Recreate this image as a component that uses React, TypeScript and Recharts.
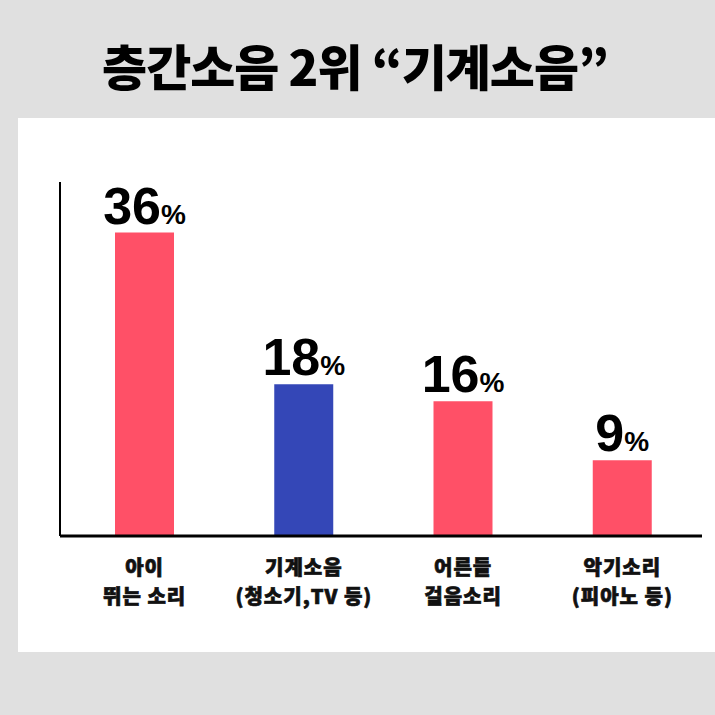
import React from "react";
import { BarChart, Bar, XAxis, YAxis, Cell, LabelList } from "recharts";

const categories = ["아이\n뛰는 소리", "기계소음\n(청소기,TV 등)", "어른들\n걸음소리", "악기소리\n(피아노 등)"];
const shares = [36, 18, 16, 9];
const highlight = [false, true, false, false];

const data = categories.map((name, i) => ({ name, value: shares[i] }));

const PINK = "#FF5067";
const BLUE = "#3447B7";
const KR = "'Noto Sans CJK KR', 'Noto Sans', sans-serif";

function CategoryTick(props: any) {
  const { x, y, payload } = props;
  const lines = String(payload.value).split("\n");
  return (
    <text
      x={x}
      y={y + 31}
      textAnchor="middle"
      fill="#111"
      stroke="#111"
      strokeWidth={0.7}
      fontSize={20}
      fontWeight={900}
      fontFamily={KR}
      letterSpacing={1}
    >
      {lines.map((line, i) => (
        <tspan key={i} x={x} dy={i === 0 ? 0 : 29}>
          {line}
        </tspan>
      ))}
    </text>
  );
}

function ValueLabel(props: any) {
  const { x, y, width, value } = props;
  return (
    <text
      x={x + width / 2}
      y={y - 9}
      textAnchor="middle"
      fill="#000"
      fontFamily="'Liberation Sans', Arial, sans-serif"
      fontWeight={700}
    >
      <tspan fontSize={52}>{value}</tspan>
      <tspan fontSize={28}>%</tspan>
    </text>
  );
}

export default function App() {
  return (
    <div
      style={{
        position: "absolute",
        left: 0,
        top: 0,
        width: 715,
        height: 715,
        background: "#E0E0E0",
        overflow: "hidden",
      }}
    >
      <div
        style={{
          position: "absolute",
          left: 0,
          top: 34,
          width: 710,
          textAlign: "center",
          fontFamily: KR,
          fontWeight: 900,
          fontSize: 49,
          lineHeight: "62px",
          color: "#000",
          letterSpacing: -1,
        }}
      >
        층간소음 2위 “기계소음”
      </div>
      <div
        style={{
          position: "absolute",
          left: 18,
          top: 118,
          width: 697,
          height: 534,
          background: "#fff",
        }}
      >
        <BarChart
          width={697}
          height={534}
          data={data}
          margin={{ top: 64, right: 13, left: 40, bottom: 36 }}
        >
          <XAxis
            dataKey="name"
            height={80}
            interval={0}
            tickLine={false}
            axisLine={{ stroke: "#000", strokeWidth: 3 }}
            tick={<CategoryTick />}
            padding={{ left: 5, right: 0 }}
          />
          <YAxis
            width={2}
            domain={[0, 42]}
            tick={false}
            tickLine={false}
            axisLine={{ stroke: "#000", strokeWidth: 2 }}
          />
          <Bar dataKey="value" barSize={59} isAnimationActive={false}>
            {data.map((d, i) => (
              <Cell key={d.name} fill={highlight[i] ? BLUE : PINK} />
            ))}
            <LabelList dataKey="value" content={<ValueLabel />} />
          </Bar>
        </BarChart>
      </div>
    </div>
  );
}
